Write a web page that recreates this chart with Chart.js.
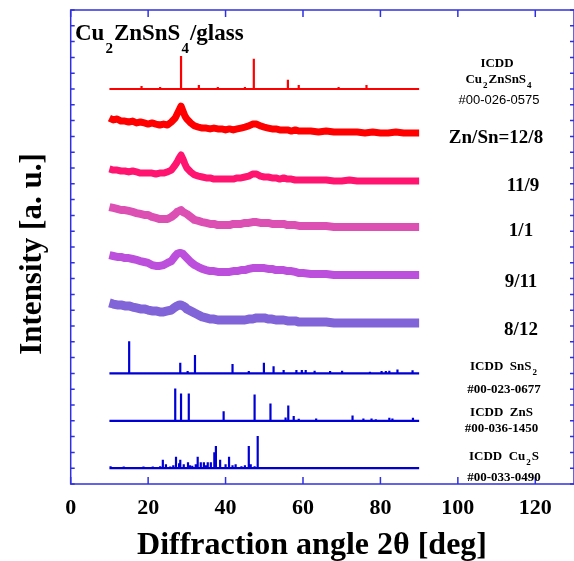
<!DOCTYPE html>
<html>
<head>
<meta charset="utf-8">
<script src="https://cdn.jsdelivr.net/npm/chart.js@4"></script>
<style>
  body { margin: 0; background: #ffffff; }
  canvas { display: block; }
</style>
</head>
<body>
<canvas id="grafico" width="574" height="561"></canvas>
<script>
// Eixo x: angulos 2theta medidos (passo menor perto do pico de 28.5 graus)
const angles = [10, 11, 12, 13, 14, 15, 16, 17, 18, 19, 20, 21, 22, 23, 24, 25, 26, 27,
  27.5, 28, 28.5, 29, 29.5,
  30, 31, 32, 33, 34, 35, 36, 37, 38, 39, 40, 41, 42, 43, 44, 45, 46, 47, 48, 49, 50,
  51, 52, 53, 54, 55, 56, 57, 58, 59, 60,
  62, 64, 66, 68, 70, 72, 74, 76, 78, 80, 82, 84, 86, 88, 90];

// Curvas medidas (ja deslocadas verticalmente como no grafico)
const zn12sn8 = [23.16, 23.04, 23.10, 22.97, 22.97, 22.91, 22.97, 22.85, 22.91, 22.85, 22.78, 22.85, 22.78, 22.72, 22.78, 22.72, 22.91, 23.16,
  23.42, 23.67, 23.92, 23.61, 23.29,
  23.10, 22.85, 22.66, 22.59, 22.53, 22.53, 22.47, 22.53, 22.47, 22.47, 22.41, 22.47, 22.41, 22.47, 22.53, 22.59, 22.66, 22.78, 22.78, 22.66, 22.59,
  22.53, 22.47, 22.47, 22.41, 22.41, 22.41, 22.34, 22.41, 22.34, 22.34,
  22.34, 22.28, 22.34, 22.28, 22.28, 22.28, 22.28, 22.22, 22.28, 22.22, 22.22, 22.28, 22.22, 22.22, 22.22];
const zn11sn9 = [19.94, 19.87, 19.87, 19.81, 19.81, 19.75, 19.81, 19.75, 19.68, 19.68, 19.68, 19.68, 19.62, 19.68, 19.68, 19.75, 19.87, 20.19,
  20.38, 20.63, 20.82, 20.57, 20.25,
  20.00, 19.75, 19.56, 19.49, 19.43, 19.37, 19.37, 19.30, 19.30, 19.30, 19.30, 19.30, 19.30, 19.37, 19.37, 19.43, 19.49, 19.62, 19.62, 19.49, 19.43,
  19.43, 19.37, 19.37, 19.30, 19.37, 19.30, 19.30, 19.24, 19.24, 19.24,
  19.24, 19.24, 19.24, 19.18, 19.18, 19.24, 19.18, 19.18, 19.18, 19.18, 19.18, 19.18, 19.18, 19.18, 19.18];
const zn1sn1 = [17.53, 17.47, 17.41, 17.34, 17.34, 17.28, 17.22, 17.15, 17.09, 17.03, 17.03, 16.90, 16.84, 16.77, 16.77, 16.77, 16.90, 17.09,
  17.22, 17.28, 17.34, 17.22, 17.15,
  17.09, 16.90, 16.71, 16.65, 16.58, 16.52, 16.46, 16.46, 16.39, 16.39, 16.39, 16.39, 16.46, 16.46, 16.46, 16.52, 16.52, 16.58, 16.58, 16.52, 16.52,
  16.52, 16.46, 16.46, 16.46, 16.46, 16.39, 16.39, 16.39, 16.33, 16.33,
  16.33, 16.33, 16.33, 16.27, 16.27, 16.27, 16.27, 16.27, 16.27, 16.27, 16.27, 16.27, 16.27, 16.27, 16.27];
const zn9sn11 = [14.49, 14.43, 14.37, 14.37, 14.30, 14.30, 14.24, 14.18, 14.11, 14.05, 13.99, 13.86, 13.80, 13.80, 13.86, 13.99, 14.11, 14.43,
  14.56, 14.62, 14.62, 14.56, 14.43,
  14.30, 14.05, 13.86, 13.73, 13.61, 13.54, 13.48, 13.48, 13.42, 13.42, 13.42, 13.42, 13.48, 13.48, 13.54, 13.54, 13.61, 13.67, 13.67, 13.67, 13.67,
  13.61, 13.61, 13.54, 13.54, 13.54, 13.48, 13.48, 13.42, 13.35, 13.35,
  13.29, 13.29, 13.29, 13.23, 13.23, 13.23, 13.23, 13.23, 13.23, 13.23, 13.23, 13.23, 13.23, 13.23, 13.23];
const zn8sn12 = [11.46, 11.39, 11.33, 11.33, 11.27, 11.27, 11.20, 11.14, 11.08, 11.08, 11.01, 10.95, 10.95, 10.89, 10.89, 10.95, 11.01, 11.20,
  11.27, 11.33, 11.33, 11.27, 11.20,
  11.08, 10.95, 10.82, 10.70, 10.57, 10.51, 10.44, 10.44, 10.38, 10.38, 10.38, 10.38, 10.38, 10.38, 10.38, 10.38, 10.44, 10.44, 10.51, 10.51, 10.51,
  10.44, 10.44, 10.38, 10.38, 10.38, 10.32, 10.32, 10.32, 10.25, 10.25,
  10.25, 10.25, 10.25, 10.19, 10.19, 10.19, 10.19, 10.19, 10.19, 10.19, 10.19, 10.19, 10.19, 10.19, 10.19];

// Fichas ICDD: posicao dos picos, altura relativa e linha de base
const cztsPos = [18.3, 23.1, 28.5, 33.1, 38.0, 45.0, 47.3, 56.1, 58.9, 69.2, 76.4];
const cztsInt = [0.19, 0.13, 2.09, 0.25, 0.13, 0.13, 1.92, 0.59, 0.25, 0.13, 0.25];
const cztsBase = 25;

const sns2Pos = [15.1, 28.3, 30.2, 32.1, 41.8, 46.0, 49.9, 52.4, 55.0, 58.3, 59.7, 60.7, 63.0, 67.0, 70.1, 77.3, 80.3, 81.4, 82.3, 84.4, 88.3];
const sns2Int = [2.04, 0.68, 0.15, 1.16, 0.59, 0.15, 0.68, 0.46, 0.21, 0.21, 0.21, 0.21, 0.17, 0.15, 0.17, 0.10, 0.15, 0.15, 0.17, 0.25, 0.20];
const sns2Base = 7;

const znsPos = [27.0, 28.5, 30.5, 39.5, 47.5, 51.6, 55.5, 56.2, 57.6, 58.9, 63.4, 72.8, 75.6, 77.7, 78.8, 82.3, 83.1, 88.4];
const znsInt = [2.04, 1.73, 1.73, 0.61, 1.66, 1.10, 0.21, 0.97, 0.30, 0.13, 0.15, 0.34, 0.15, 0.15, 0.10, 0.19, 0.15, 0.19];
const znsBase = 4;

const cu2sPos = [10.3, 13.7, 18.8, 21.2, 23.1, 23.8, 24.6, 25.7, 26.5, 27.2, 28.0, 28.3, 29.2, 30.3, 30.8, 31.4, 32.3, 32.8,
  33.6, 34.4, 34.9, 35.4, 36.2, 37.1, 37.5, 38.6, 40.0, 40.9, 41.8, 42.6, 44.1, 45.0, 46.0, 46.5, 47.5, 48.3];
const cu2sInt = [0.13, 0.10, 0.10, 0.10, 0.13, 0.53, 0.25, 0.10, 0.19, 0.72, 0.32, 0.53, 0.25, 0.38, 0.19, 0.15, 0.25, 0.72,
  0.38, 0.38, 0.19, 0.38, 0.38, 1.01, 1.41, 0.53, 0.25, 0.72, 0.19, 0.25, 0.13, 0.19, 1.41, 0.25, 0.13, 2.04];
const cu2sBase = 1;

// Rotulos do eixo x
const xTicks = [0, 20, 40, 60, 80, 100, 120];

const corEixo = '#3030e0';
const corFicha = '#0000d4';
const serif = '"Liberation Serif", "Times New Roman", serif';

// Monta os pontos de uma curva medida
function curva(valores) {
  return angles.map((a, i) => ({ x: a, y: valores[i] }));
}

// Monta a ficha como linha de base com barras verticais
function ficha(pos, alt, base) {
  const pts = [{ x: 10, y: base }];
  pos.forEach((p, i) => {
    pts.push({ x: p, y: base }, { x: p, y: base + alt[i] }, { x: p, y: base });
  });
  pts.push({ x: 90, y: base });
  return pts;
}

function datasetCurva(valores, cor, largura) {
  return {
    data: curva(valores),
    borderColor: cor,
    borderWidth: largura,   // linha grossa imita a faixa de ruido
    borderJoinStyle: 'round',
    pointRadius: 0,
    tension: 0
  };
}

function datasetFicha(pos, alt, base, cor) {
  return {
    data: ficha(pos, alt, base),
    borderColor: cor,
    borderWidth: 2.2,
    pointRadius: 0,
    tension: 0
  };
}

// Texto com subscritos: partes = [[texto, ehSubscrito], ...]
function textoRico(ctx, partes, x, y, size, sub, queda, align, weight, family) {
  const fMain = `${weight} ${size}px ${family}`;
  const fSub = `${weight} ${sub}px ${family}`;
  let total = 0;
  partes.forEach(([t, s]) => {
    ctx.font = s ? fSub : fMain;
    total += ctx.measureText(t).width + (s ? 2 : 0);
  });
  let cx = align === 'center' ? x - total / 2 : x;
  ctx.textAlign = 'left';
  ctx.textBaseline = 'alphabetic';
  partes.forEach(([t, s]) => {
    ctx.font = s ? fSub : fMain;
    if (s) cx += 1;
    ctx.fillText(t, cx, s ? y + queda : y);
    cx += ctx.measureText(t).width + (s ? 1 : 0);
  });
}

const molduraPlugin = {
  id: 'moldura',
  beforeDatasetsDraw(chart) {
    const { ctx, chartArea: a, scales: { x, y } } = chart;
    ctx.save();
    ctx.strokeStyle = corEixo;
    ctx.lineWidth = 1.5;
    ctx.strokeRect(a.left, a.top, a.right - a.left, a.bottom - a.top);
    ctx.beginPath();
    x.ticks.forEach(t => {
      const px = x.getPixelForValue(t.value);
      ctx.moveTo(px, a.bottom); ctx.lineTo(px, a.bottom - 7);
      ctx.moveTo(px, a.top); ctx.lineTo(px, a.top + 7);
    });
    y.ticks.forEach(t => {
      const py = y.getPixelForValue(t.value);
      ctx.moveTo(a.left, py); ctx.lineTo(a.left + 4, py);
      ctx.moveTo(a.right, py); ctx.lineTo(a.right - 4, py);
    });
    ctx.stroke();
    ctx.restore();
  },
  afterDraw(chart) {
    const ctx = chart.ctx;
    ctx.save();
    ctx.fillStyle = '#000000';

    // Titulo dentro do grafico
    textoRico(ctx, [['Cu', 0], ['2', 1], ['ZnSnS', 0], ['4', 1], ['/glass', 0]], 75, 39.5, 23, 15, 13, 'left', 'bold', serif);

    // Ficha do CZTS
    textoRico(ctx, [['ICDD', 0]], 497, 66.7, 13, 9, 5, 'center', 'bold', serif);
    textoRico(ctx, [['Cu', 0], ['2', 1], ['ZnSnS', 0], ['4', 1]], 499, 82.5, 13, 9, 5, 'center', 'bold', serif);
    textoRico(ctx, [['#00-026-0575', 0]], 499, 104.3, 13, 9, 5, 'center', 'normal', '"Liberation Sans", Arial, sans-serif');

    // Razoes Zn/Sn
    textoRico(ctx, [['Zn/Sn=12/8', 0]], 496, 142.5, 19, 12, 5, 'center', 'bold', serif);
    textoRico(ctx, [['11/9', 0]], 523, 191, 19, 12, 5, 'center', 'bold', serif);
    textoRico(ctx, [['1/1', 0]], 521, 236, 19, 12, 5, 'center', 'bold', serif);
    textoRico(ctx, [['9/11', 0]], 521, 286.7, 19, 12, 5, 'center', 'bold', serif);
    textoRico(ctx, [['8/12', 0]], 521, 335, 19, 12, 5, 'center', 'bold', serif);

    // Fichas das fases secundarias
    textoRico(ctx, [['ICDD  SnS', 0], ['2', 1]], 504, 370, 13, 9, 5, 'center', 'bold', serif);
    textoRico(ctx, [['#00-023-0677', 0]], 504, 392.7, 13, 9, 5, 'center', 'bold', serif);
    textoRico(ctx, [['ICDD  ZnS', 0]], 501.5, 416, 13, 9, 5, 'center', 'bold', serif);
    textoRico(ctx, [['#00-036-1450', 0]], 501.5, 431.7, 13, 9, 5, 'center', 'bold', serif);
    textoRico(ctx, [['ICDD  Cu', 0], ['2', 1], ['S', 0]], 504, 460, 13, 9, 5, 'center', 'bold', serif);
    textoRico(ctx, [['#00-033-0490', 0]], 504, 481, 13, 9, 5, 'center', 'bold', serif);

    // Titulos dos eixos
    textoRico(ctx, [['Diffraction angle 2\u03b8 [deg]', 0]], 312, 554, 32, 20, 5, 'center', 'bold', serif);
    ctx.translate(41, 254);
    ctx.rotate(-Math.PI / 2);
    textoRico(ctx, [['Intensity [a. u.]', 0]], 0, 0, 31, 20, 5, 'center', 'bold', serif);
    ctx.restore();
  }
};

const ctx = document.getElementById('grafico').getContext('2d');

new Chart(ctx, {
  type: 'line',
  data: {
    datasets: [
      datasetFicha(cztsPos, cztsInt, cztsBase, '#ff0000'),
      datasetCurva(zn12sn8, '#ff0000', 7),
      datasetCurva(zn11sn9, '#ff1470', 7),
      datasetCurva(zn1sn1, '#dc50b4', 8),
      datasetCurva(zn9sn11, '#bc50dc', 8),
      datasetCurva(zn8sn12, '#8064d8', 9),
      datasetFicha(sns2Pos, sns2Int, sns2Base, corFicha),
      datasetFicha(znsPos, znsInt, znsBase, corFicha),
      datasetFicha(cu2sPos, cu2sInt, cu2sBase, corFicha)
    ]
  },
  options: {
    responsive: false,
    animation: false,
    layout: { padding: { top: 10, right: 0, left: 0, bottom: 0 } },
    plugins: { legend: { display: false }, tooltip: { enabled: false } },
    scales: {
      x: {
        type: 'linear',
        min: 0,
        max: 130,
        grid: { display: false, drawTicks: false },
        border: { display: false },
        afterBuildTicks: s => { s.ticks = xTicks.map(v => ({ value: v })); },
        afterFit: s => { s.height = 77; },
        ticks: {
          autoSkip: false,
          maxRotation: 0,
          padding: 11,
          color: '#000000',
          font: { family: serif, size: 22, weight: 'bold' }
        }
      },
      y: {
        type: 'linear',
        min: 0,
        max: 30,
        grid: { display: false, drawTicks: false },
        border: { display: false },
        ticks: { display: false, stepSize: 1 },
        afterFit: s => { s.width = 70.7; }
      }
    }
  },
  plugins: [molduraPlugin]
});
</script>
</body>
</html>
